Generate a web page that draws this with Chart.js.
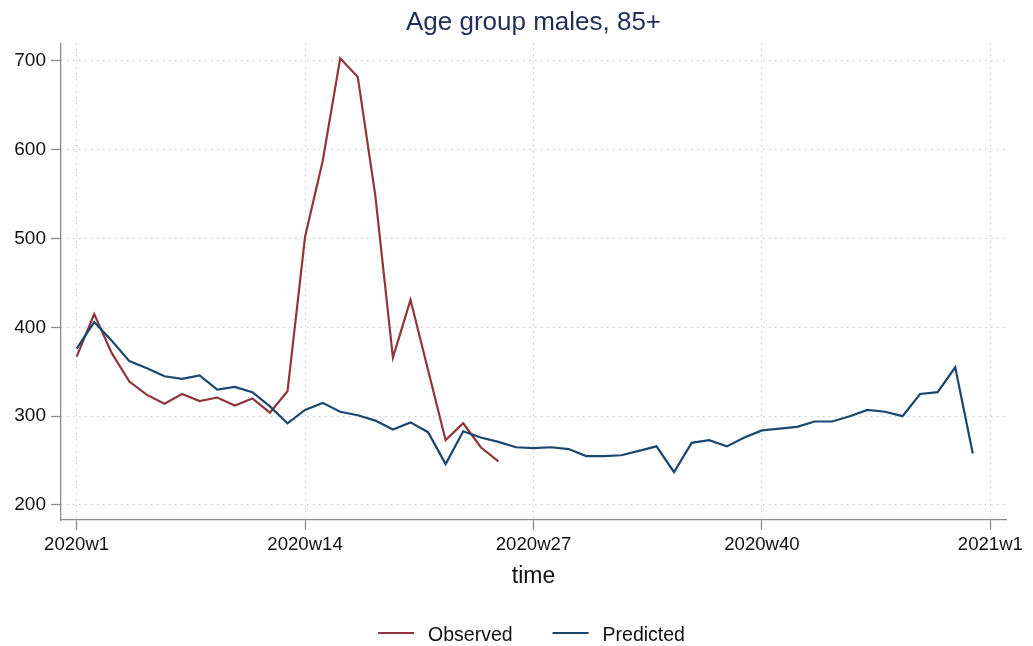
<!DOCTYPE html>
<html>
<head>
<meta charset="utf-8">
<title>Age group males, 85+</title>
<script src="https://cdn.jsdelivr.net/npm/chart.js@4.4.1/dist/chart.umd.min.js"></script>
<style>
    html, body { margin: 0; padding: 0; background: #fff; }
    canvas { display: block; }
</style>
</head>
<body>
<canvas id="grafico" width="1033" height="646"></canvas>
<script>
// weekly deaths, index 0 = 2020w1 (Stata weeks: 52 per year)
const observed = [367, 415, 371, 339, 324, 314, 325, 317, 321, 312, 320, 304, 328,
    502, 587, 703, 682, 548, 366, 431, 352, 273, 292, 265, 249];
const predicted = [376, 406, 385, 362, 354, 345, 342, 346, 330, 333, 327, 311, 292,
    307, 315, 305, 301, 295, 285, 293, 282, 246, 283, 276, 271, 265,
    264, 265, 263, 255, 255, 256, 261, 266, 237, 270, 273, 266, 276,
    284, 286, 288, 294, 294, 300, 307, 305, 300, 325, 327, 355, 258];
const weeks = predicted.map((v, i) => i);
const xTickWeeks = [0, 13, 26, 39, 52];
const yTickValues = [200, 300, 400, 500, 600, 700];
const seriesNames = ['Observed', 'Predicted'];
const seriesColors = ['#90353b', '#1a476f'];

const fonte = "'Liberation Sans', Arial, Helvetica, sans-serif";

function weekLabel(i) {
    return i < 52 ? '2020w' + (i + 1) : '2021w' + (i - 51);
}

function toPoints(values) {
    return values.map((v, i) => ({ x: weeks[i], y: v }));
}

// legenda desenhada à mão, no estilo do Stata
const legendaStata = {
    id: 'legendaStata',
    afterDraw(chart) {
        const ctx = chart.ctx;
        const area = chart.chartArea;
        const lineLen = 36, gapText = 14, gapItems = 40, y = 633;
        ctx.save();
        ctx.font = '19.5px ' + fonte;
        const widths = seriesNames.map(n => ctx.measureText(n).width);
        let total = 0;
        widths.forEach((w, i) => { total += lineLen + gapText + w + (i > 0 ? gapItems : 0); });
        let x = (area.left + area.right) / 2 - 2 - total / 2;
        ctx.textBaseline = 'alphabetic';
        ctx.textAlign = 'left';
        seriesNames.forEach((n, i) => {
            ctx.strokeStyle = seriesColors[i];
            ctx.lineWidth = 2;
            ctx.beginPath();
            ctx.moveTo(x, y);
            ctx.lineTo(x + lineLen, y);
            ctx.stroke();
            ctx.fillStyle = '#111';
            ctx.fillText(n, x + lineLen + gapText, y + 7.5);
            x += lineLen + gapText + widths[i] + gapItems;
        });
        ctx.restore();
    }
};

const gridCfg = {
    color: '#b0b0b0',
    lineWidth: 1,
    tickColor: '#8c8c8c',
    tickLength: 10,
    tickWidth: 1.3,
    tickBorderDash: []
};
const borderCfg = { display: true, color: '#8c8c8c', width: 1.3, dash: [1, 5] };

const ctx = document.getElementById('grafico').getContext('2d');
const grafico = new Chart(ctx, {
    type: 'line',
    data: {
        datasets: [
            {
                label: seriesNames[0],
                data: toPoints(observed),
                borderColor: seriesColors[0],
                backgroundColor: seriesColors[0],
                borderWidth: 2.2,
                pointRadius: 0,
                tension: 0,
                order: 1
            },
            {
                label: seriesNames[1],
                data: toPoints(predicted),
                borderColor: seriesColors[1],
                backgroundColor: seriesColors[1],
                borderWidth: 2.2,
                pointRadius: 0,
                tension: 0,
                order: 0
            }
        ]
    },
    options: {
        responsive: false,
        animation: false,
        devicePixelRatio: 1,
        layout: { padding: { left: 0, right: 27, top: 0, bottom: 45 } },
        plugins: {
            legend: { display: false },
            tooltip: { enabled: false },
            title: {
                display: true,
                text: 'Age group males, 85+',
                fullSize: false,
                color: '#1f2f57',
                font: { family: fonte, size: 26, weight: 'normal' },
                padding: { top: 7.5, bottom: 4.5 }
            }
        },
        scales: {
            x: {
                type: 'linear',
                min: -0.89,
                max: 52.89,
                afterBuildTicks: axis => { axis.ticks = xTickWeeks.map(v => ({ value: v })); },
                ticks: {
                    autoSkip: false,
                    maxRotation: 0,
                    padding: 4,
                    color: '#111',
                    font: { family: fonte, size: 18.6 },
                    callback: v => weekLabel(v)
                },
                grid: gridCfg,
                border: borderCfg,
                title: {
                    display: true,
                    text: 'time',
                    color: '#111',
                    font: { family: fonte, size: 23 },
                    padding: { top: 2, bottom: 11 }
                }
            },
            y: {
                min: 183,
                max: 720,
                afterBuildTicks: axis => { axis.ticks = yTickValues.map(v => ({ value: v })); },
                afterFit: axis => { axis.width = 61; },
                ticks: {
                    padding: 5,
                    color: '#111',
                    font: { family: fonte, size: 19 }
                },
                grid: gridCfg,
                border: borderCfg
            }
        }
    },
    plugins: [legendaStata]
});
</script>
</body>
</html>
